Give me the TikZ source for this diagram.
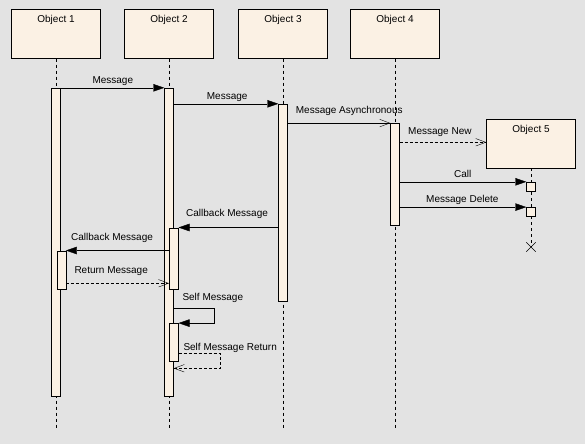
\documentclass[tikz,border=0pt]{standalone}
\usepackage{fontspec}
\setmainfont{Liberation Sans}
\usetikzlibrary{arrows.meta,shapes.misc}
\definecolor{bg}{RGB}{227,227,227}
\definecolor{cream}{RGB}{251,241,228}
\pgfdeclarelayer{lifelines}
\pgfsetlayers{lifelines,main}
\begin{document}
\begin{tikzpicture}[x=1pt,y=-1pt, line width=0.9pt, font=\fontsize{10}{12}\selectfont,
  objbox/.style={draw, fill=cream, minimum width=89pt, minimum height=49pt, inner sep=0pt},
  bar/.style={draw, fill=cream, minimum width=9pt, inner sep=0pt},
  smallbox/.style={draw, fill=cream, minimum width=9pt, minimum height=9pt, inner sep=0pt},
  life/.style={dash pattern=on 3pt off 3pt},
  sync/.style={-{Triangle[length=11pt,width=7.5pt]}},
  async/.style={-{Straight Barb[length=10pt,width=7.5pt]}},
  retmsg/.style={dash pattern=on 3pt off 2pt, -{Straight Barb[length=10pt,width=7.5pt]}},
  lbl/.style={anchor=base west, inner sep=0pt},
  objlbl/.style={anchor=north, inner sep=0pt, yshift=-6pt}]
\begin{pgfonlayer}{lifelines}
\useasboundingbox[fill=bg] (0,0) rectangle (585,444);
\end{pgfonlayer}

% objects
\node[objbox, label={[objlbl]north:Object 1}] (o1) at (56,33.8) {};
\node[objbox, label={[objlbl]north:Object 2}] (o2) at (169,33.8) {};
\node[objbox, label={[objlbl]north:Object 3}] (o3) at (283,33.8) {};
\node[objbox, label={[objlbl]north:Object 4}] (o4) at (395,33.8) {};
\node[objbox, label={[objlbl]north:Object 5}] (o5) at (531,143.5) {};

% lifeline ends
\coordinate (e1) at (56,428);
\coordinate (e2) at (169,428);
\coordinate (e3) at (283,428);
\coordinate (e4) at (395,428);
\node[draw, cross out, minimum size=9pt, inner sep=0pt] (x5) at (531,247) {};

\begin{pgfonlayer}{lifelines}
\draw[life] (o1.south) -- (e1);
\draw[life] (o2.south) -- (e2);
\draw[life] (o3.south) -- (e3);
\draw[life] (o4.south) -- (e4);
\draw[life] (o5.south) -- (x5.center);
\end{pgfonlayer}

% activation bars
\node[bar, minimum height=308pt] (b1) at (56,242) {};
\node[bar, minimum height=308pt] (b2) at (169,242) {};
\node[bar, minimum height=197pt] (b3) at (283,202.5) {};
\node[bar, minimum height=102pt] (b4) at (395,174.3) {};
\node[bar, minimum height=61.6pt] (b2cb) at (173.8,258.5) {};
\node[bar, minimum height=38.6pt] (b1cb) at (61.2,270) {};
\node[bar, minimum height=38pt] (b2self) at (173.8,342.3) {};
\node[smallbox] (s5a) at (531,186.5) {};
\node[smallbox] (s5b) at (531,211.8) {};

% messages
\draw[sync] (b1.north east) -- (b2.north west);
\node[lbl] (l1) at (92.3,83.3) {Message};

\draw[sync] (b2.east |- b3.north) -- (b3.north west);
\node[lbl] (l2) at (206.7,99) {Message};

\draw[async] (b3.east |- b4.north) -- (b4.north west);
\node[lbl] (l3) at (295.7,113.3) {Message Asynchronous};

\coordinate (mn) at (0,142.3);
\draw[retmsg] (b4.east |- mn) -- (o5.west |- mn);
\node[lbl] (l4) at (408,134) {Message New};

\draw[sync] (b4.east |- s5a.north) -- (s5a.north west);
\node[lbl] (l5) at (454,177.7) {Call};

\draw[sync] (b4.east |- s5b.north) -- (s5b.north west);
\node[lbl] (l6) at (426,202.7) {Message Delete};

\draw[sync] (b3.west |- b2cb.north) -- (b2cb.north east);
\node[lbl] (l7) at (186,216) {Callback Message};

\draw[sync] (b2cb.west |- b1cb.north) -- (b1cb.north east);
\node[lbl] (l8) at (71,240) {Callback Message};

\coordinate (rt) at (0,283.3);
\draw[retmsg] (b1cb.east |- rt) -- (b2cb.west |- rt);
\node[lbl] (l9) at (74.3,273) {Return Message};

\coordinate (sm) at (214.3,308.3);
\draw[sync] (b2.east |- sm) -- (sm) |- (b2self.north east);
\node[lbl] (l10) at (182.3,300) {Self Message};

\coordinate (sr) at (220,353.3);
\coordinate (sre) at (220,368.3);
\draw[retmsg] (b2self.east |- sr) -- (sr) -- (sre) -- (b2.east |- sre);
\node[lbl] (l11) at (183.3,350) {Self Message Return};
\end{tikzpicture}
\end{document}
